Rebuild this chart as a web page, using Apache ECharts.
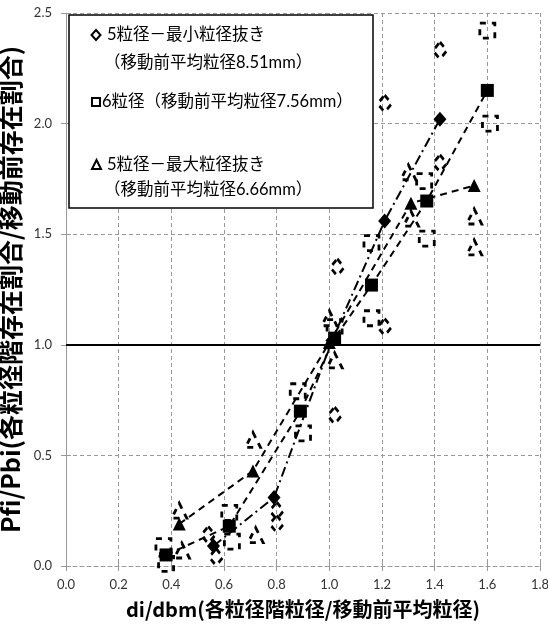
<!DOCTYPE html>
<html>
<head>
<meta charset="utf-8">
<script src="https://cdn.jsdelivr.net/npm/echarts@6/dist/echarts.min.js"></script>
<style>
html,body{margin:0;padding:0;background:#fff;}
#chart{width:548px;height:630px;}
</style>
</head>
<body>
<div id="chart"></div>
<script>
// x tick labels / y tick labels
const xTicks = [0.0, 0.2, 0.4, 0.6, 0.8, 1.0, 1.2, 1.4, 1.6, 1.8];
const yTicks = [0.0, 0.5, 1.0, 1.5, 2.0, 2.5];

// mean values (filled markers)
const diamondMeanX = [0.56, 0.79, 1.01, 1.21, 1.42];
const diamondMeanY = [0.09, 0.31, 1.02, 1.56, 2.02];
const squareMeanX = [0.38, 0.62, 0.89, 1.02, 1.16, 1.37, 1.60];
const squareMeanY = [0.05, 0.18, 0.70, 1.03, 1.27, 1.65, 2.15];
const triangleMeanX = [0.43, 0.71, 1.00, 1.31, 1.55];
const triangleMeanY = [0.19, 0.43, 1.01, 1.64, 1.72];

// individual runs (hollow markers)
const diamondRunX = [0.54, 0.57, 0.80, 0.80, 1.02, 1.03, 1.21, 1.21, 1.42, 1.42];
const diamondRunY = [0.14, 0.04, 0.25, 0.19, 0.68, 1.35, 1.08, 2.09, 1.82, 2.33];
const squareRunX = [0.37, 0.38, 0.62, 0.63, 0.88, 0.90, 1.02, 1.16, 1.16, 1.36, 1.37, 1.60, 1.61];
const squareRunY = [0.09, 0.01, 0.24, 0.11, 0.79, 0.60, 1.08, 1.12, 1.46, 1.74, 1.48, 2.42, 2.00];
const triangleRunX = [0.43, 0.44, 0.71, 0.72, 1.00, 1.02, 1.30, 1.31, 1.55, 1.55];
const triangleRunY = [0.25, 0.07, 0.57, 0.14, 1.12, 0.93, 1.78, 1.57, 1.58, 1.44];

const refLineY = 1.0;

const legendLines = [
  '5粒径－最小粒径抜き',
  '（移動前平均粒径8.51mm）',
  '6粒径（移動前平均粒径7.56mm）',
  '5粒径－最大粒径抜き',
  '（移動前平均粒径6.66mm）'
];
const xTitle = 'di/dbm(各粒径階粒径/移動前平均粒径)';
const yTitle = 'Pfi/Pbi(各粒径階存在割合/移動前存在割合)';

function zip(xs, ys) { return xs.map((x, i) => [x, ys[i]]); }

const FONT = "Lato, 'Noto Sans CJK JP', sans-serif";
const CJK = "'Noto Sans CJK JP', sans-serif";

const chart = echarts.init(document.getElementById('chart'), null, {renderer: 'canvas'});

const runStyle = {
  color: 'rgba(255,255,255,0)',
  borderColor: '#000',
  borderWidth: 2.8,
  borderType: [6, 6],
  opacity: 1
};

function meanSeries(name, xs, ys, symbol, size, dash) {
  return {
    name: name, type: 'line', data: zip(xs, ys),
    symbol: symbol, symbolSize: size, showSymbol: true,
    itemStyle: {color: '#000', opacity: 1},
    lineStyle: {color: '#000', width: 2, type: dash},
    z: 5, animation: false
  };
}
function runSeries(name, xs, ys, symbol, size) {
  return {
    name: name, type: 'scatter', data: zip(xs, ys),
    symbol: symbol, symbolSize: size,
    itemStyle: runStyle, z: 4, animation: false
  };
}

const legendFont = "16.5px " + FONT;
const gridLine = {color: '#999', type: [4, 3], width: 1};

function mainAxis(ticks, interval, name, gap, nameSize, margin) {
  return {
    type: 'value', min: ticks[0], max: ticks[ticks.length - 1], interval: interval,
    name: name, nameLocation: 'middle', nameGap: gap,
    nameTextStyle: {fontFamily: CJK, fontWeight: 'bold', fontSize: nameSize, color: '#000'},
    axisLine: {show: true, lineStyle: gridLine},
    axisTick: {show: true, length: 5, lineStyle: {color: '#999'}},
    axisLabel: {fontFamily: FONT, fontSize: 13, color: '#333', margin: margin,
      formatter: v => v.toFixed(1)},
    splitLine: {show: true, lineStyle: gridLine}
  };
}
function tickAxis(ticks, interval) {
  return {
    type: 'value', min: ticks[0], max: ticks[ticks.length - 1], interval: interval,
    axisLine: {show: false},
    axisTick: {show: true, inside: true, length: 5, lineStyle: {color: '#999'}},
    axisLabel: {show: false}, splitLine: {show: false}
  };
}

const xMain = mainAxis(xTicks, 0.2, xTitle, 33, 20, 12);
const yMain = mainAxis(yTicks, 0.5, yTitle, 34, 25, 14);
const xIn = Object.assign(tickAxis(xTicks, 0.2), {position: 'bottom'});
const yIn = Object.assign(tickAxis(yTicks, 0.5), {position: 'left'});

chart.setOption({
  animation: false,
  grid: {left: 66, right: 8, top: 13, bottom: 64, containLabel: false, outerBoundsMode: 'none'},
  xAxis: [xMain, xIn],
  yAxis: [yMain, yIn],
  series: [
    runSeries('d-run', diamondRunX, diamondRunY, 'diamond', [14, 17]),
    runSeries('s-run', squareRunX, squareRunY, 'rect', 15),
    runSeries('t-run', triangleRunX, triangleRunY, 'triangle', 15),
    meanSeries('5粒径－最小粒径抜き', diamondMeanX, diamondMeanY, 'diamond', [13, 15], [10, 4, 2, 4]),
    meanSeries('6粒径', squareMeanX, squareMeanY, 'rect', 13, [7, 5]),
    meanSeries('5粒径－最大粒径抜き', triangleMeanX, triangleMeanY, 'triangle', 13, [7, 5]),
    {
      name: 'ref', type: 'line', data: [], z: 3,
      markLine: {
        silent: true, symbol: 'none', label: {show: false},
        lineStyle: {color: '#000', width: 2, type: 'solid'},
        data: [{yAxis: refLineY}]
      }
    }
  ],
  graphic: [
    {type: 'rect', z: 100, shape: {x: 69, y: 15, width: 304, height: 193},
      style: {fill: '#fff', stroke: '#000', lineWidth: 1.5}},
    // legend marker glyphs
    {type: 'polygon', z: 101, shape: {points: [[96, 30], [100.5, 35], [96, 40], [91.5, 35]]},
      style: {fill: 'none', stroke: '#000', lineWidth: 2}},
    {type: 'rect', z: 101, shape: {x: 92, y: 98, width: 8, height: 8},
      style: {fill: 'none', stroke: '#000', lineWidth: 2}},
    {type: 'polygon', z: 101, shape: {points: [[96.5, 160], [101, 169], [92, 169]]},
      style: {fill: 'none', stroke: '#000', lineWidth: 2}},
    {type: 'text', z: 101, x: 107, y: 35, style: {text: legendLines[0], font: legendFont, fill: '#000', verticalAlign: 'middle'}},
    {type: 'text', z: 101, x: 104, y: 63, style: {text: legendLines[1], font: legendFont, fill: '#000', verticalAlign: 'middle'}},
    {type: 'text', z: 101, x: 102, y: 102, style: {text: legendLines[2], font: legendFont, fill: '#000', verticalAlign: 'middle'}},
    {type: 'text', z: 101, x: 107, y: 165, style: {text: legendLines[3], font: legendFont, fill: '#000', verticalAlign: 'middle'}},
    {type: 'text', z: 101, x: 104, y: 190, style: {text: legendLines[4], font: legendFont, fill: '#000', verticalAlign: 'middle'}}
  ]
});
</script>
</body>
</html>
